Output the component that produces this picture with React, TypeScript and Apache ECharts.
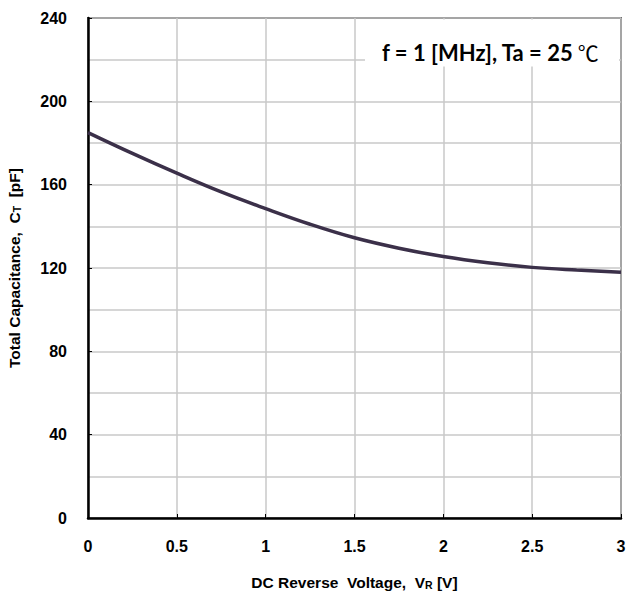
import React, { useEffect, useRef } from "react";
import * as echarts from "echarts";

const voltage = [0, 0.25, 0.5, 0.75, 1.0, 1.25, 1.5, 1.75, 2.0, 2.25, 2.5, 2.75, 3.0];
const capacitance = [185, 175, 165.5, 156.5, 148.5, 141, 134.5, 129.5, 125.5, 122.5, 120.3, 119, 118];
const xTitle = "DC Reverse  Voltage,  V{sub|R} [V]";
const yTitle = "Total Capacitance,  C{sub|T}  [pF]";
const noteMain = "f = 1 [MHz], Ta = 25";
const noteUnit = "℃";

export default function App() {
  const ref = useRef<HTMLDivElement>(null);
  useEffect(() => {
    document.body.style.margin = "0";
    const chart = echarts.init(ref.current!, null, { renderer: "svg" });
    const fam = "Arial, 'Liberation Sans', sans-serif";
    const labelFont = { fontFamily: fam, fontWeight: "bold" as const, fontSize: 16, color: "#000" };
    const titleFont = {
      fontFamily: fam,
      fontWeight: "bold" as const,
      fontSize: 15.5,
      color: "#000",
      rich: {
        sub: { fontFamily: fam, fontWeight: "bold" as const, fontSize: 10.5, color: "#000", verticalAlign: "bottom" as const, padding: [4, 0, 0, 0] },
      },
    };
    chart.setOption({
      animation: false,
      backgroundColor: "#fff",
      grid: {
        left: 88,
        top: 18,
        right: 6,
        bottom: 78,
        show: true,
        borderColor: "#000",
        borderWidth: 1.5,
        backgroundColor: "transparent",
        outerBoundsMode: "none",
        containLabel: false,
      },
      xAxis: {
        type: "value",
        min: 0,
        max: 3,
        interval: 0.5,
        name: xTitle,
        nameLocation: "middle",
        nameGap: 56,
        nameTextStyle: titleFont,
        axisLine: { show: true, lineStyle: { color: "#000", width: 2.5 } },
        axisTick: { show: true, inside: true, length: 4, lineStyle: { color: "#000", width: 1 } },
        axisLabel: { ...labelFont, margin: 20 },
        splitLine: { show: true, lineStyle: { color: "#c8c8c8", width: 1.5 } },
      },
      yAxis: {
        type: "value",
        min: 0,
        max: 240,
        interval: 40,
        name: yTitle,
        nameLocation: "middle",
        nameGap: 66,
        nameTextStyle: titleFont,
        axisLine: { show: true, lineStyle: { color: "#000", width: 2.5 } },
        axisTick: { show: true, inside: true, length: 4, lineStyle: { color: "#000", width: 1 } },
        axisLabel: { ...labelFont, margin: 21 },
        splitLine: { show: true, lineStyle: { color: "#c8c8c8", width: 1.5 } },
        minorTick: { show: false, splitNumber: 2 },
        minorSplitLine: { show: true, lineStyle: { color: "#c8c8c8", width: 1.5 } },
      },
      graphic: [
        { type: "rect", shape: { x: 365, y: 19.5, width: 254, height: 47 }, style: { fill: "#fff" }, z: 5 },
        {
          type: "text",
          x: 382,
          y: 52,
          z: 6,
          style: {
            text: "{m|" + noteMain + "}{u|" + noteUnit + "}",
            verticalAlign: "middle",
            rich: {
              m: { fill: "#000", fontFamily: "Lato, 'Open Sans', sans-serif", fontWeight: "bold", fontSize: 22 },
              u: { fill: "#000", fontFamily: "'Noto Sans CJK JP', 'Noto Sans CJK SC', sans-serif", fontWeight: "normal", fontSize: 21, padding: [0, 0, 0, 4] },
            },
          },
        },
      ],
      series: [
        {
          type: "line",
          data: voltage.map((v, i) => [v, capacitance[i]]),
          smooth: 0.4,
          showSymbol: false,
          lineStyle: { color: "#3b3049", width: 3.5 },
          z: 10,
        },
      ],
    });
    return () => chart.dispose();
  }, []);
  return <div ref={ref} style={{ width: 627, height: 596 }} />;
}
